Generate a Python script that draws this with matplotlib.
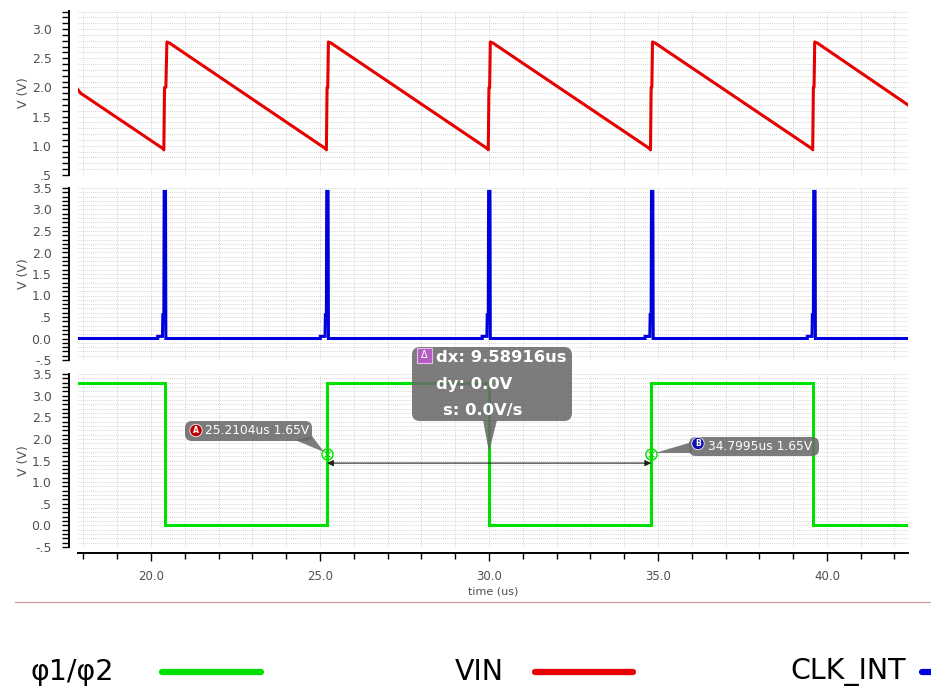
import matplotlib
matplotlib.use("Agg")
import matplotlib.pyplot as plt
from matplotlib.ticker import MultipleLocator, FuncFormatter
from matplotlib.lines import Line2D
from matplotlib.patches import FancyBboxPatch, Polygon, Rectangle, Circle
from matplotlib.transforms import IdentityTransform

# ---- waveform vertices (time in us, volts) ----
vin_t = [17.84, 17.92, 18.00, 20.36, 20.38, 20.40, 20.44, 20.47, 20.55,
         25.17, 25.19, 25.21, 25.23, 25.25, 25.33,
         29.96, 29.98, 30.00, 30.02, 30.04, 30.12,
         34.76, 34.78, 34.80, 34.82, 34.84, 34.92,
         39.56, 39.58, 39.60, 39.62, 39.64, 39.72,
         42.40]
vin_v = [1.96, 1.90, 1.87, 0.95, 0.93, 2.00, 2.00, 2.78, 2.76,
         0.95, 0.93, 2.00, 2.00, 2.78, 2.76,
         0.95, 0.93, 2.00, 2.00, 2.78, 2.76,
         0.95, 0.93, 2.00, 2.00, 2.78, 2.76,
         0.95, 0.93, 2.00, 2.00, 2.78, 2.76,
         1.70]

clk_t = [17.84,
         20.20, 20.20, 20.34, 20.35, 20.38, 20.39, 20.43, 20.44,
         25.01, 25.01, 25.15, 25.16, 25.19, 25.20, 25.24, 25.25,
         29.80, 29.80, 29.94, 29.95, 29.98, 29.99, 30.03, 30.04,
         34.62, 34.62, 34.76, 34.77, 34.80, 34.81, 34.85, 34.86,
         39.42, 39.42, 39.56, 39.57, 39.60, 39.61, 39.65, 39.66,
         42.40]
clk_v = [0.0,
         0.0, 0.05, 0.05, 0.55, 0.55, 3.42, 3.42, 0.0,
         0.0, 0.05, 0.05, 0.55, 0.55, 3.42, 3.42, 0.0,
         0.0, 0.05, 0.05, 0.55, 0.55, 3.42, 3.42, 0.0,
         0.0, 0.05, 0.05, 0.55, 0.55, 3.42, 3.42, 0.0,
         0.0, 0.05, 0.05, 0.55, 0.55, 3.42, 3.42, 0.0,
         0.0]

phi_t = [17.84, 20.41, 20.41, 25.2104, 25.2104, 30.005, 30.005,
         34.7995, 34.7995, 39.60, 39.60, 42.40]
phi_v = [3.3, 3.3, 0.0, 0.0, 3.3, 3.3, 0.0, 0.0, 3.3, 3.3, 0.0, 0.0]

marker_a = (25.2104, 1.65)
marker_b = (34.7995, 1.65)
delta_lines = ["dx: 9.58916us", "dy: 0.0V", "s: 0.0V/s"]

x_major = [20.0, 25.0, 30.0, 35.0, 40.0]

RED = "#e60000"
BLUE = "#0000dc"
GREEN = "#00e000"
TICK_COL = "#505050"
BOX_COL = "#6a6a6a"

W, H = 931, 698
fig = plt.figure(figsize=(W / 100, H / 100), dpi=100)
PX = IdentityTransform()


def frac(top, bottom):
    return [78 / W, 1 - bottom / H, (908 - 78) / W, (bottom - top) / H]


def vfmt(v, _):
    s = f"{v:.1f}"
    if s == "0.5":
        return ".5"
    if s == "-0.5":
        return "-.5"
    if s == "-0.0":
        return "0.0"
    return s


def style(ax, ylo, yhi, bottom_axis=False):
    ax.set_xlim(17.84, 42.40)
    ax.set_ylim(ylo, yhi)
    for s in ["top", "right"]:
        ax.spines[s].set_visible(False)
    ax.spines["left"].set_position(("outward", 6.5))
    ax.spines["left"].set_linewidth(1.4)
    ax.yaxis.set_major_locator(MultipleLocator(0.5))
    ax.yaxis.set_minor_locator(MultipleLocator(0.1))
    ax.yaxis.set_major_formatter(FuncFormatter(vfmt))
    ax.xaxis.set_major_locator(MultipleLocator(5.0))
    ax.xaxis.set_minor_locator(MultipleLocator(1.0))
    ax.tick_params(axis="y", which="both", length=5, width=1.0,
                   labelsize=9, labelcolor=TICK_COL, pad=7.5)
    ax.grid(which="both", color="#c8c8c8", linestyle=(0, (1, 1.5)),
            linewidth=0.6)
    ax.set_ylabel("V (V)", fontsize=9, color=TICK_COL, labelpad=1)
    ax.yaxis.set_label_coords(-0.058, 0.5)
    if bottom_axis:
        ax.spines["bottom"].set_position(("outward", 4.3))
        ax.spines["bottom"].set_linewidth(1.4)
        ax.tick_params(axis="x", which="major", length=6, width=1.0,
                       labelsize=8.5, labelcolor=TICK_COL, pad=6)
        ax.tick_params(axis="x", which="minor", length=4, width=1.0)
        ax.set_xticks(x_major)
        ax.set_xticklabels([f"{v:.1f}" for v in x_major])
    else:
        ax.spines["bottom"].set_visible(False)
        ax.tick_params(axis="x", which="both", length=0, labelbottom=False)


ax1 = fig.add_axes(frac(11, 175))
ax2 = fig.add_axes(frac(188, 360))
ax3 = fig.add_axes(frac(374, 547))

style(ax1, 0.5, 3.31)
style(ax2, -0.5, 3.5)
style(ax3, -0.5, 3.5, bottom_axis=True)

ax1.plot(vin_t, vin_v, color=RED, lw=2.2, solid_joinstyle="round")
ax2.plot(clk_t, clk_v, color=BLUE, lw=2.2, solid_joinstyle="miter")
ax3.plot(phi_t, phi_v, color=GREEN, lw=2.2, solid_joinstyle="miter")

ax3.set_xlabel("time (us)", fontsize=8, color=TICK_COL, labelpad=3)

# cursor markers
for m in (marker_a, marker_b):
    ax3.plot(*m, marker="o", ms=8, mfc="none", mec=GREEN, mew=1.0, zorder=6)
    ax3.plot(*m, marker="x", ms=5, mec=GREEN, mew=0.8, zorder=6)

# delta arrow between the two cursors
ax3.annotate("", xy=(marker_b[0], marker_b[1] - 0.21),
             xytext=(marker_a[0], marker_a[1] - 0.21),
             arrowprops=dict(arrowstyle="<|-|>", color="#202020", lw=0.8,
                             shrinkA=0, shrinkB=0, mutation_scale=9),
             zorder=7)


# ---- callout helpers (pixel positions measured from the top-left) ----
def pt(x, y):
    return (x, H - y)


def callout_box(x0, y0, x1, y1, r=6, alpha=0.88):
    fig.add_artist(FancyBboxPatch(pt(x0, y1), x1 - x0, y1 - y0,
                                  boxstyle=f"round,pad=0,rounding_size={r}",
                                  fc=BOX_COL, ec="none", alpha=alpha,
                                  transform=PX, zorder=20))


def callout_tail(p0, p1, tip, alpha=0.88):
    fig.add_artist(Polygon([pt(*p0), pt(*p1), tip], closed=True,
                           fc=BOX_COL, ec="none", alpha=alpha,
                           transform=PX, zorder=20))


def data_px(xy):
    return tuple(ax3.transData.transform(xy))


def ftext(x, y, s, **kw):
    fig.text(x / W, 1 - y / H, s, zorder=25, **kw)


def badge(x, y, letter, color):
    fig.add_artist(Circle(pt(x, y), 6.2, fc=color, ec="#f0f0f0", lw=0.6,
                          transform=PX, zorder=22))
    ftext(x, y, letter, fontsize=5.5, color="white", fontweight="bold",
          ha="center", va="center")


# cursor A label
ax_a = data_px(marker_a)
callout_box(185, 421, 312, 441, r=7)
callout_tail((295, 440), (312, 436), (ax_a[0] - 3, ax_a[1] + 2))
badge(196, 430.5, "A", "#c00000")
ftext(205, 431, f"{marker_a[0]:.4f}us {marker_a[1]:.2f}V", fontsize=8.8,
      color="white", ha="left", va="center")

# cursor B label
bx_b = data_px(marker_b)
callout_box(689, 437, 819, 456, r=7)
callout_tail((692, 442), (692, 453), (bx_b[0] + 4, bx_b[1] + 1))
badge(698, 443.5, "B", "#1010b0")
ftext(708, 446.5, f"{marker_b[0]:.4f}us {marker_b[1]:.2f}V", fontsize=8.8,
      color="white", ha="left", va="center")

# delta readout
callout_box(412, 347, 572, 421, r=8)
callout_tail((483, 420), (497, 420), (489, H - 452))
fig.add_artist(Rectangle(pt(417, 363), 15, 15, fc="#b05cc0", ec="#e8b8f0",
                         lw=0.8, transform=PX, zorder=22))
ftext(424.5, 355.5, "Δ", fontsize=7, color="white", ha="center",
      va="center")
for (lx, ly), line in zip([(436, 358), (436, 384), (443, 410)], delta_lines):
    ftext(lx, ly, line, fontsize=11.8, fontweight="bold", color="white",
          ha="left", va="center")

# separator above the legend
fig.add_artist(Line2D([15 / W, 1.0], [1 - 602 / H] * 2, color="#d0a0a0",
                      lw=0.9))

# legend row
legend_items = [("φ1/φ2", GREEN, 30, 162, 261),
                ("VIN", RED, 455, 535, 633),
                ("CLK_INT", BLUE, 790, 922, 1000)]
ly = 1 - 672 / H
for label, col, tx, x0, x1 in legend_items:
    fig.text(tx / W, ly, label, fontsize=20.5, color="black", ha="left",
             va="center")
    fig.add_artist(Line2D([x0 / W, x1 / W], [ly, ly], color=col, lw=4.5,
                          solid_capstyle="round"))

fig.savefig("out.png", dpi=100)
